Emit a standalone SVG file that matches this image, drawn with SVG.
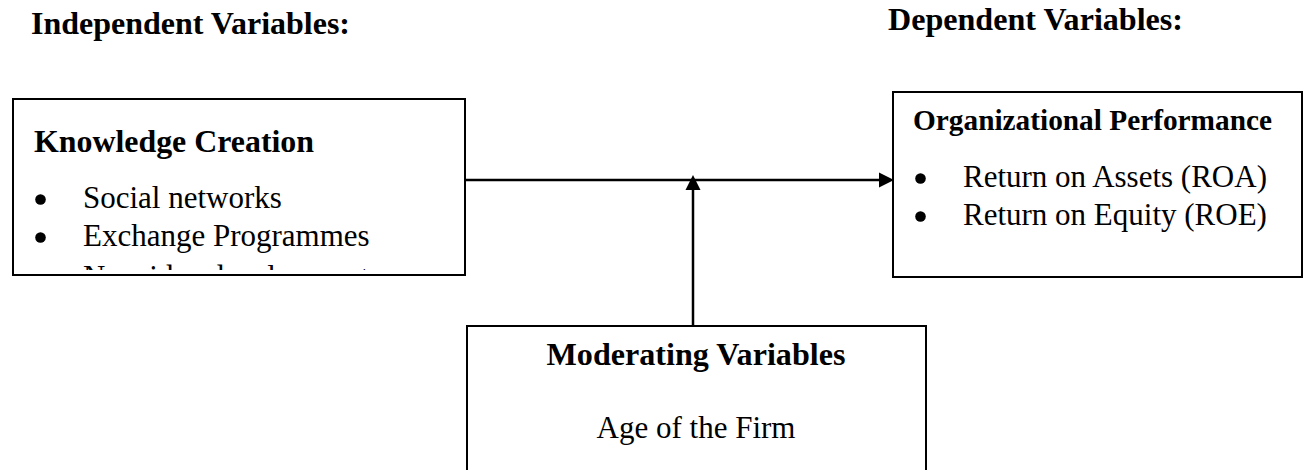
<svg xmlns="http://www.w3.org/2000/svg" width="1303" height="470" viewBox="0 0 1303 470">
  <style>
    .box { fill: #ffffff; stroke: #000000; stroke-width: 2; }
    .hdr { font-family: "Liberation Serif", "Times New Roman", serif; font-weight: bold; font-size: 31.5px; fill: #000; }
    .ttl { font-family: "Liberation Serif", "Times New Roman", serif; font-weight: bold; font-size: 31.5px; fill: #000; }
    .txt { font-family: "Liberation Serif", "Times New Roman", serif; font-size: 31px; fill: #000; }
    .bul { fill: #000; stroke: none; }
    .conn { stroke: #000; stroke-width: 2.5; fill: none; }
    .head { fill: #000; stroke: none; }
  </style>
  <defs>
    <clipPath id="clipKC">
      <rect x="14" y="100" width="450" height="170"/>
    </clipPath>
  </defs>
  <rect width="1303" height="470" fill="#ffffff"/>

  <g id="header-independent">
    <text class="hdr" x="31" y="34" textLength="319" lengthAdjust="spacingAndGlyphs">Independent Variables:</text>
  </g>
  <g id="header-dependent">
    <text class="hdr" x="888" y="30" textLength="295" lengthAdjust="spacingAndGlyphs">Dependent Variables:</text>
  </g>

  <g id="node-knowledge-creation">
    <rect class="box" x="13" y="99" width="452" height="176"/>
    <text class="ttl" x="34" y="152" textLength="280" lengthAdjust="spacingAndGlyphs">Knowledge Creation</text>
    <g clip-path="url(#clipKC)">
      <circle class="bul" cx="40.5" cy="199.5" r="5.3"/>
      <text class="txt" x="83" y="208">Social networks</text>
      <circle class="bul" cx="40.5" cy="237.5" r="5.3"/>
      <text class="txt" x="83" y="246">Exchange Programmes</text>
      <circle class="bul" cx="40.5" cy="278.5" r="5.3"/>
      <text class="txt" x="83" y="287">New idea development</text>
    </g>
  </g>

  <g id="node-organizational-performance">
    <rect class="box" x="893" y="92" width="409" height="185"/>
    <text class="ttl" x="913" y="130" style="font-size:29.3px" textLength="359" lengthAdjust="spacingAndGlyphs">Organizational Performance</text>
    <circle class="bul" cx="920.5" cy="178.5" r="5.3"/>
    <text class="txt" x="963" y="187">Return on Assets (ROA)</text>
    <circle class="bul" cx="920.5" cy="216.5" r="5.3"/>
    <text class="txt" x="963" y="225">Return on Equity (ROE)</text>
  </g>

  <g id="node-moderating-variables">
    <rect class="box" x="467" y="326" width="459" height="200"/>
    <text class="ttl" x="696" y="365" text-anchor="middle" textLength="299" lengthAdjust="spacingAndGlyphs">Moderating Variables</text>
    <text class="txt" x="696" y="438" text-anchor="middle">Age of the Firm</text>
  </g>

  <g id="connectors">
    <line class="conn" x1="465" y1="180" x2="881" y2="180"/>
    <polygon class="head" points="894,180 879,172.5 879,187.5"/>
    <line class="conn" x1="693" y1="326" x2="693" y2="188"/>
    <polygon class="head" points="693,175 685.5,190 700.5,190"/>
  </g>
</svg>
